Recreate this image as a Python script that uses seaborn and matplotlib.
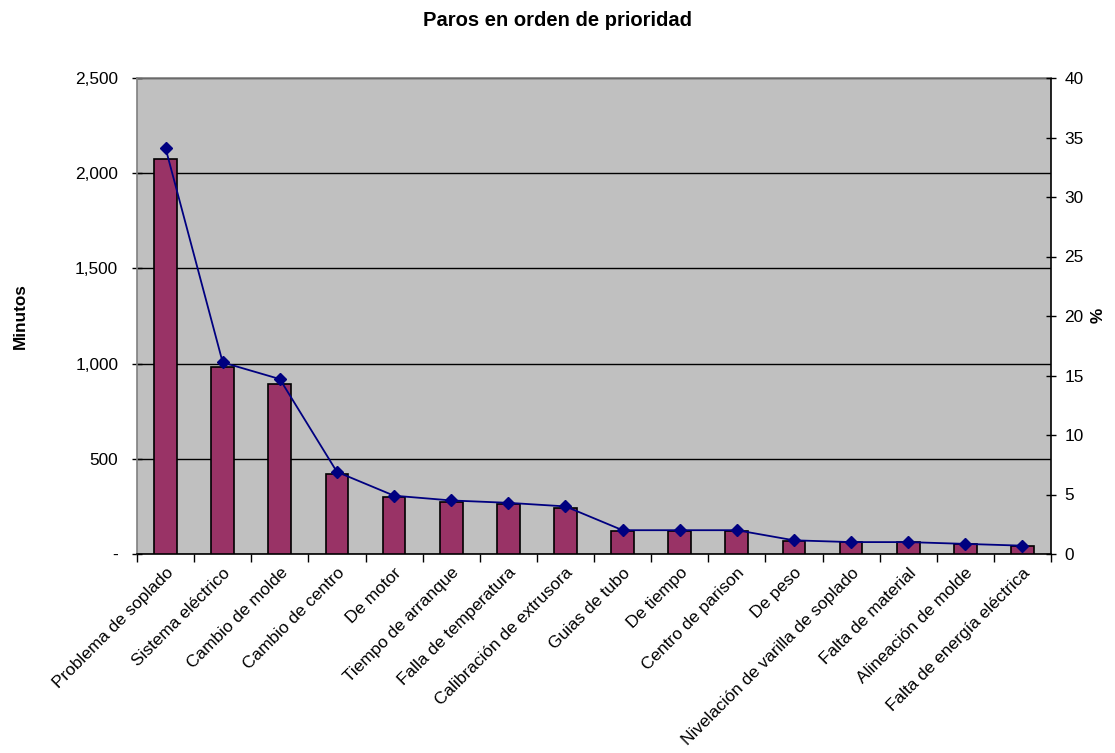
import matplotlib
matplotlib.use("Agg")
import matplotlib.pyplot as plt
import seaborn as sns
import pandas as pd
from matplotlib.ticker import FuncFormatter, MultipleLocator, FixedLocator

categories = ["Problema de soplado", "Sistema eléctrico", "Cambio de molde", "Cambio de centro",
              "De motor", "Tiempo de arranque", "Falla de temperatura", "Calibración de extrusora",
              "Guias de tubo", "De tiempo", "Centro de parison", "De peso",
              "Nivelación de varilla de soplado", "Falta de material", "Alineación de molde",
              "Falta de energía eléctrica"]
minutos = [2075, 982, 893, 420, 300, 273, 263, 242, 122, 122, 122, 70, 61, 61, 52, 42]
porcentaje = [34.1, 16.1, 14.7, 6.9, 4.9, 4.5, 4.3, 4.0, 2.0, 2.0, 2.0, 1.15, 1.0, 1.0, 0.85, 0.7]

sns.set_theme(style="white")
plt.rcParams['font.family'] = ['Liberation Sans', 'DejaVu Sans']
plt.rcParams.update({"text.color": "black", "axes.labelcolor": "black",
                     "xtick.color": "black", "ytick.color": "black"})

fig = plt.figure(figsize=(11.15, 7.53), dpi=100)
ax = fig.add_axes([137/1115, 1 - 554/753, (1051 - 137)/1115, (554 - 78)/753])
ax.set_facecolor("#C0C0C0")

df = pd.DataFrame({"cat": categories, "min": minutos})
sns.barplot(data=df, x="cat", y="min", ax=ax, color="#993366", width=0.4,
            edgecolor="black", linewidth=1.2, saturation=1, zorder=3)

ax.set_ylim(0, 2500)
ax.set_xlim(-0.5, len(categories) - 0.5)
ax.yaxis.set_major_locator(MultipleLocator(500))
ax.yaxis.set_major_formatter(FuncFormatter(lambda v, p: "-" if v == 0 else f"{int(v):,}"))
ax.grid(axis="y", color="black", linewidth=1.0, zorder=0)
ax.set_axisbelow(True)
ax.set_xlabel("")
ax.set_ylabel("Minutos", fontsize=12.3, fontweight="bold", labelpad=34)

ax.set_xticks(range(len(categories)))
ax.set_xticklabels(categories, rotation=45, ha="right", rotation_mode="anchor", fontsize=12.4)
ax.tick_params(axis="x", which="major", length=0, pad=8)
ax.xaxis.set_minor_locator(FixedLocator([i - 0.5 for i in range(len(categories) + 1)]))
ax.tick_params(axis="x", which="minor", length=6, direction="out", color="black", width=1, bottom=True)
ax.tick_params(axis="y", length=7, direction="inout", labelsize=12.4, color="black", width=1, left=True, pad=10)

for s in ["left", "top"]:
    ax.spines[s].set_color("#808080")
for s in ["bottom", "right"]:
    ax.spines[s].set_color("black")
for s in ax.spines.values():
    s.set_linewidth(1.2)

ax2 = ax.twinx()
ax2.plot(categories, porcentaje, color="#000080", marker="D", markersize=6, linewidth=1.3, zorder=5)
ax2.set_ylim(0, 40)
ax2.set_xlim(-0.5, len(categories) - 0.5)
ax2.yaxis.set_major_locator(MultipleLocator(5))
ax2.tick_params(axis="y", length=7, direction="inout", labelsize=12.4, color="black", width=1, right=True, pad=6)
for s in ax2.spines.values():
    s.set_visible(False)
ax2.grid(False)

fig.text(1098/1115, 1 - 315/753, "%", rotation=90, ha="center", va="center",
         fontsize=12.3, fontweight="bold")

fig.suptitle("Paros en orden de prioridad", fontsize=14.5, fontweight="bold", y=0.985)

fig.savefig("out.png", dpi=100)
